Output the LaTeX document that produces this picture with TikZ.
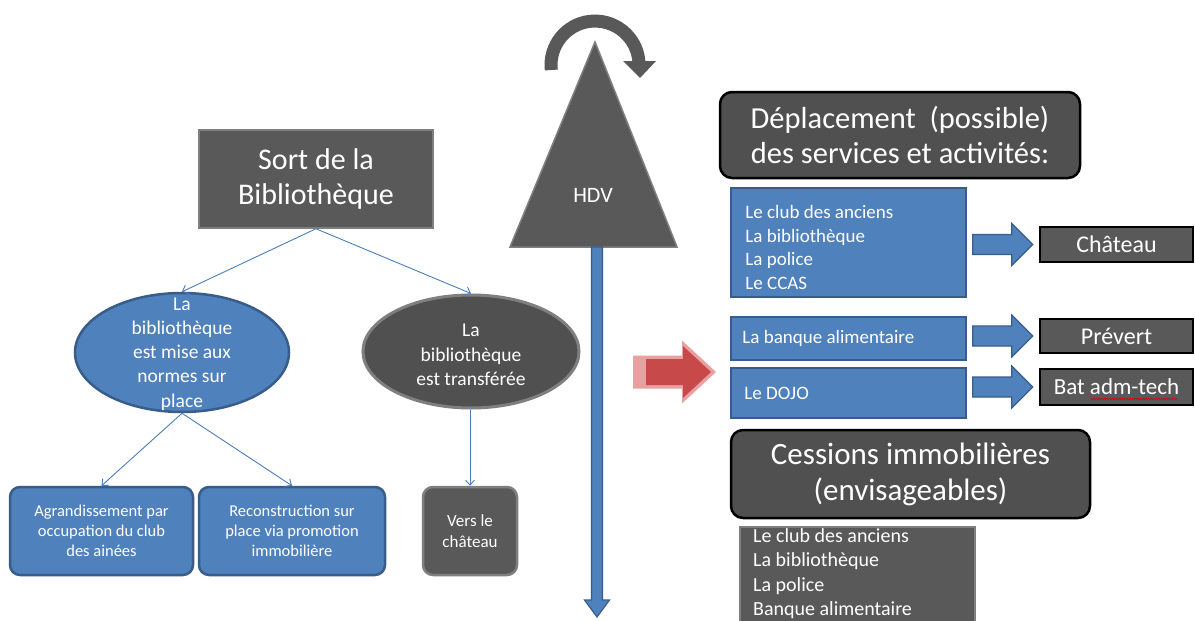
\documentclass[tikz,border=0pt]{standalone}
\usepackage{fontspec}
\setmainfont{Carlito}
\usetikzlibrary{shapes.geometric,arrows.meta,calc,decorations.pathmorphing}

\definecolor{boxblue}{HTML}{4F81BD}
\definecolor{blueedge}{HTML}{385D8A}
\definecolor{darkfill}{HTML}{595959}
\definecolor{ovalfill}{HTML}{505050}
\definecolor{greyedge}{HTML}{7F7F7F}
\definecolor{linkblue}{HTML}{4A7EBB}
\definecolor{palered}{HTML}{E8A1A1}
\definecolor{deepred}{HTML}{C8494A}

\newcommand\fsz[2]{\fontsize{#1}{#2}\selectfont}

% right-pointing block arrow between two boxes, at the height of the target
\newcommand\blockarrow[2]{%
  \filldraw[fill=boxblue, draw=blueedge, line width=1.2pt]
    let \p1=($(#1.east)+(6,0)$), \p2=($(#2.west)+(-6,0)$) in
    (\x1,\y2+10pt) -- (\x2-21pt,\y2+10pt) -- (\x2-21pt,\y2+21pt) -- (\x2,\y2)
    -- (\x2-21pt,\y2-21pt) -- (\x2-21pt,\y2-10pt) -- (\x1,\y2-10pt) -- cycle;}

\tikzset{
  titlebox/.style={rectangle, fill=darkfill, draw=greyedge, line width=1.5pt,
    text=white, align=center, inner sep=0pt},
  blueoval/.style={ellipse, fill=boxblue, draw=blueedge, line width=2.5pt, inner sep=0pt},
  greyoval/.style={ellipse, fill=ovalfill, draw=greyedge, line width=3pt, inner sep=0pt},
  roundblue/.style={rectangle, rounded corners=10pt, fill=boxblue, draw=blueedge,
    line width=2.5pt, text=white, align=center, inner sep=0pt},
  roundgrey/.style={rectangle, rounded corners=10pt, fill=darkfill, draw=greyedge,
    line width=2.5pt, text=white, align=center, inner sep=0pt},
  bluebar/.style={rectangle, fill=boxblue, draw=blueedge, line width=1.5pt, inner sep=0pt},
  sitebox/.style={rectangle, fill=darkfill, draw=black, line width=2.5pt,
    text=white, inner sep=0pt},
  heading/.style={rectangle, rounded corners=12pt, fill=ovalfill, draw=black,
    line width=2.5pt, text=white, align=center, inner sep=0pt},
  listbox/.style={rectangle, fill=darkfill, draw=greyedge, line width=2pt, inner sep=0pt},
  wtext/.style={text=white, inner sep=0pt},
  link/.style={draw=linkblue, line width=0.9pt, -{Straight Barb[length=5pt,width=9pt]}}
}

\begin{document}
\begin{tikzpicture}[x=1pt, y=-1pt]
\useasboundingbox (0,0) rectangle (1195,621);
\fill[white] (0,0) rectangle (1195,621);
\clip (0,0) rectangle (1195,621);

% ---------- library tree ----------
\node[titlebox, minimum width=234pt, minimum height=98pt, font=\fsz{30}{35}]
  (sort) at (316,179) {Sort de la\\Bibliothèque};

\node[blueoval, minimum width=214pt, minimum height=119pt] (e1) at (182,352.5) {};
\node[wtext, align=center, font=\fsz{19.5}{24.2}] (e1t) at (182,354)
  {La\\bibliothèque\\est mise aux\\normes sur\\place};

\node[greyoval, minimum width=216pt, minimum height=113pt] (e2) at (471,351.5) {};
\node[wtext, align=center, font=\fsz{19.5}{24.2}] (e2t) at (471,355)
  {La\\bibliothèque\\est transférée};

\node[roundblue, minimum width=183pt, minimum height=88pt, font=\fsz{16.5}{20}]
  (agr) at (101.5,531) {Agrandissement par\\occupation du club\\des ainées};
\node[roundblue, minimum width=186pt, minimum height=88pt, font=\fsz{16.5}{20}]
  (rec) at (292,531) {Reconstruction sur\\place via promotion\\immobilière};
\node[roundgrey, minimum width=94pt, minimum height=88pt, font=\fsz{17}{21}]
  (vers) at (470,531) {Vers le\\château};

\draw[link] (sort.south) -- (e1.north);
\draw[link] (sort.south) -- (e2.north);
\draw[link] (e1.south) -- (agr.north);
\draw[link] (e1.south) -- (rec.north);
\draw[link] (e2.south -| vers.north) -- (vers.north);

% ---------- town hall and its axis ----------
\coordinate (apex) at (595,42);
\coordinate (baseL) at (510,247);
\coordinate (baseR) at (677,247);
\filldraw[fill=darkfill, draw=greyedge, line width=1.5pt] (apex) -- (baseR) -- (baseL) -- cycle;
\node[wtext, font=\fsz{22}{26}] (hdv) at (593,195) {HDV};

% turning arrow over the apex
\draw[darkfill, line width=13pt] (551.3,70) arc[start angle=186.5, end angle=4, radius=44pt];
\fill[darkfill] (623,61) -- (656,61) -- (640,78) -- cycle;

% vertical axis arrow
\coordinate (hdvfoot) at (597,247);
\coordinate (axisend) at (597,617);
\filldraw[fill=boxblue, draw=blueedge, line width=1.2pt]
  let \p1=(hdvfoot), \p2=(axisend) in
  (\x1-5.5pt,\y1) -- (\x1+5.5pt,\y1) -- (\x1+5.5pt,\y2+17pt) -- (\x1+12.5pt,\y2+17pt)
  -- (\x2,\y2) -- (\x1-12.5pt,\y2+17pt) -- (\x1-5.5pt,\y2+17pt) -- cycle;

% red arrow toward the moves
\fill[palered] (633,355.5) -- (682,355.5) -- (682,340.5) -- (716,372) -- (682,403.5)
  -- (682,388.5) -- (633,388.5) -- cycle;
\fill[deepred] (646,359) -- (683,359) -- (683,346) -- (711,372) -- (683,398)
  -- (683,385) -- (646,385) -- cycle;

% ---------- moves of services ----------
\node[heading, minimum width=360pt, minimum height=86pt, font=\fsz{30.5}{35}]
  (dep) at (900,135) {Déplacement~ (possible)\\des services et activités:};

\node[bluebar, minimum width=235pt, minimum height=109pt] (b1) at (848.5,242.5) {};
\node[wtext, align=left, anchor=west, font=\fsz{19}{23.7}] (b1t) at ($(b1.west)+(15,5)$)
  {Le club des anciens\\La bibliothèque\\La police\\Le CCAS};
\node[bluebar, minimum width=235pt, minimum height=43pt] (b2) at (848.5,338.5) {};
\node[wtext, anchor=west, font=\fsz{19}{23}] (b2t) at ($(b2.west)+(12,0)$) {La banque alimentaire};
\node[bluebar, minimum width=235pt, minimum height=50pt] (b3) at (848.5,393) {};
\node[wtext, anchor=west, font=\fsz{19}{23}] (b3t) at ($(b3.west)+(14,0)$) {Le DOJO};

\node[sitebox, minimum width=153pt, minimum height=35pt, font=\fsz{24}{28}] (chat) at (1116.5,244.5) {Château};
\node[sitebox, minimum width=153pt, minimum height=34pt, font=\fsz{24}{28}] (prev) at (1116.5,336) {Prévert};
\node[sitebox, minimum width=153pt, minimum height=36pt, font=\fsz{23}{27}] (bat) at (1116.5,387) {Bat adm-tech};
\draw[red!85!black, line width=0.6pt, decorate, decoration={snake, amplitude=0.7pt, segment length=2.6pt}]
  ($(bat.base)+(-26,4)$) -- ($(bat.base)+(61,4)$);

\blockarrow{b1}{chat}
\blockarrow{b2}{prev}
\blockarrow{b3}{bat}

% ---------- property sales ----------
\node[heading, minimum width=359pt, minimum height=88pt, font=\fsz{31}{36}]
  (cess) at (910.5,474) {Cessions immobilières\\(envisageables)};

\node[listbox, minimum width=235pt, minimum height=124pt, anchor=north] (lst) at (857.5,526) {};
\node[wtext, align=left, anchor=north west, font=\fsz{20}{24.6}] (lstt) at ($(lst.north west)+(14,2)$)
  {Le club des anciens\\La bibliothèque\\La police\\Banque alimentaire};

\end{tikzpicture}
\end{document}
